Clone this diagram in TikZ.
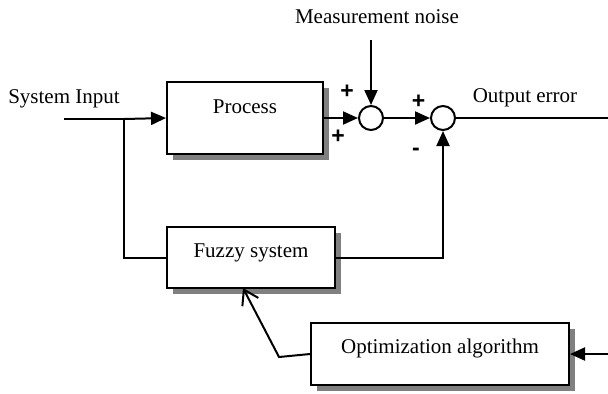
\documentclass[tikz,border=0pt]{standalone}
\usepackage{fontspec}
\setmainfont{Liberation Serif}
\newfontfamily\signfont{Liberation Sans}
\usetikzlibrary{arrows.meta,shadows}

\begin{document}
\begin{tikzpicture}[x=0.5pt,y=-0.5pt,
  font=\fontsize{10.5}{12}\selectfont,
  block/.style={draw,fill=white,line width=1pt,
    drop shadow={shadow xshift=3pt,shadow yshift=-3pt,fill=gray,opacity=1}},
  sumnode/.style={draw,circle,fill=white,line width=1pt,minimum size=12pt,inner sep=0pt},
  wire/.style={line width=1pt},
  arr/.style={line width=1pt,-{Triangle[length=7.5pt,width=6.5pt]}},
  sign/.style={font=\signfont\bfseries\fontsize{11.5}{12}\selectfont}]
\useasboundingbox (0,0) rectangle (608,393);

% blocks and summing points
\node[block,minimum width=78pt,minimum height=36pt] (process) at (245,118) {};
\node[sumnode] (sum1) at (371,118) {};
\node[sumnode] (sum2) at (443,118) {};
\node[block,minimum width=84pt,minimum height=30.5pt] (fuzzy) at (251,257.5) {};
\node[block,minimum width=129pt,minimum height=31pt] (optim) at (440,354) {};

% texts
\node[anchor=base] (processlbl) at (245,113) {Process};
\node[anchor=base] (fuzzylbl) at (251,257) {Fuzzy system};
\node[anchor=base] (optimlbl) at (440,353) {Optimization algorithm};
\node[anchor=base] (inlbl) at (64,103) {System Input};
\node[anchor=base] (noiselbl) at (377,23) {Measurement noise};
\node[anchor=base] (outlbl) at (525,102) {Output error};

% signs at the summing points
\node[sign,anchor=base] (plusa) at (347,98) {+};
\node[sign,anchor=base] (plusb) at (338,143) {+};
\node[sign,anchor=base] (plusc) at (418.5,108) {+};
\node[sign,anchor=base] (minus) at (416,155) {-};

% free ends
\coordinate (sysin) at (64,119);
\coordinate (split) at (124,119);
\coordinate (noisein) at (371,40);
\coordinate (errout) at (608,118);
\coordinate (optin) at (608,354);
\coordinate (bend) at (279,357);
\coordinate (tune) at (243,288);

% connectors
\draw[wire] (sysin) -- (split);
\draw[arr] (split) -- (process.west);
\draw[wire] (split) |- (fuzzy.west);
\draw[arr] (process.east) -- (sum1.west);
\draw[arr] (noisein) -- (sum1.north);
\draw[arr] (sum1.east) -- (sum2.west);
\draw[wire] (sum2.east) -- (errout);
\draw[arr] (fuzzy.east) -| (sum2.south);
\draw[arr] (optin) -- (optim.east);
\draw[wire,-{Straight Barb[length=7pt,width=9pt]}] (optim.west) -- (bend) -- (tune);
\end{tikzpicture}
\end{document}
